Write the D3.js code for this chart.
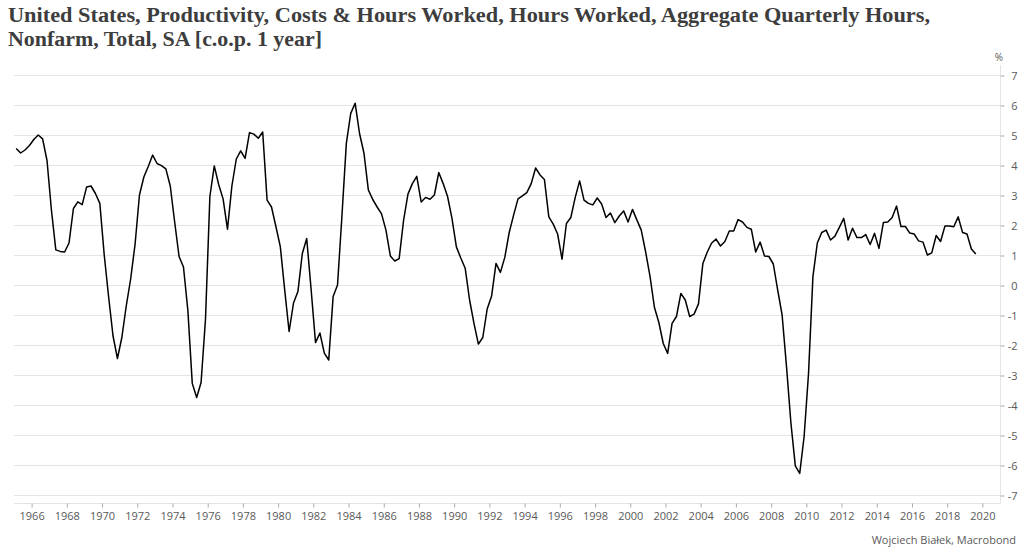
<!DOCTYPE html>
<html lang="en">
<head>
    <meta charset="UTF-8"/>
    <title>US Aggregate Quarterly Hours Worked</title>
    <script src="https://d3js.org/d3.v7.min.js"></script>
    <style>
        body { margin: 0; background: #fff; }
        svg { display: block; }
    </style>
</head>
<body>
    <div id="chart"></div>

    <script>
        // Hours worked, nonfarm, % change over one year, quarterly from 1965 Q1
        var startYear = 1965;
        var hours1960s = [
            4.55, 4.4, 4.5, 4.65,   4.85, 5.0, 4.87, 4.15,   2.5, 1.17, 1.12, 1.1,
            1.4, 2.55, 2.77, 2.68,  3.27, 3.3, 3.05, 2.72
        ];
        var hours1970s = [
            1.0, -0.4, -1.7, -2.45,  -1.75, -0.7, 0.2, 1.35,  3.0, 3.6, 3.95, 4.33,
            4.05, 3.98, 3.87, 3.3,   2.1, 0.95, 0.6, -0.85,   -3.28, -3.75, -3.25, -1.15,
            2.95, 3.97, 3.35, 2.87,  1.86, 3.3, 4.2, 4.47,    4.22, 5.08, 5.03, 4.89,
            5.1, 2.83, 2.6, 1.95
        ];
        var hours1980s = [
            1.28, -0.17, -1.55, -0.6,  -0.22, 1.05, 1.55, -0.15,  -1.92, -1.6, -2.27, -2.5,
            -0.38, 0.0, 2.3, 4.72,     5.72, 6.06, 5.05, 4.4,     3.17, 2.85, 2.6, 2.37,
            1.83, 0.97, 0.8, 0.88,     2.15, 3.03, 3.38, 3.62,    2.77, 2.92, 2.86, 3.0,
            3.75, 3.38, 2.95, 2.22
        ];
        var hours1990s = [
            1.27, 0.9, 0.56, -0.5,   -1.28, -1.97, -1.75, -0.8,  -0.37, 0.72, 0.42, 0.92,
            1.75, 2.33, 2.87, 2.97,  3.08, 3.38, 3.9, 3.67,      3.52, 2.27, 2.03, 1.7,
            0.86, 2.05, 2.25, 2.92,  3.47, 2.83, 2.72, 2.67,     2.9, 2.7, 2.25, 2.4,
            2.08, 2.3, 2.47, 2.1
        ];
        var hours2000s = [
            2.52, 2.17, 1.83, 1.1,   0.28, -0.75, -1.25, -1.95,  -2.28, -1.28, -1.05, -0.28,
            -0.5, -1.05, -0.97, -0.63, 0.72, 1.1, 1.4, 1.53,     1.3, 1.45, 1.8, 1.8,
            2.18, 2.1, 1.92, 1.86,   1.1, 1.43, 0.97, 0.95,      0.7, -0.17, -1.0, -2.72,
            -4.6, -6.03, -6.28, -5.05
        ];
        var hours2010s = [
            -2.95, 0.28, 1.4, 1.75,  1.83, 1.5, 1.63, 1.92,  2.22, 1.5, 1.89, 1.58,
            1.58, 1.68, 1.35, 1.72,  1.22, 2.08, 2.1, 2.25,  2.63, 1.95, 1.95, 1.73,
            1.7, 1.47, 1.43, 1.0,    1.07, 1.65, 1.45, 1.97, 1.97, 1.94, 2.27, 1.75,
            1.7, 1.2, 1.03
        ];
        var yTicks = [7, 6, 5, 4, 3, 2, 1, 0, -1, -2, -3, -4, -5, -6, -7];
        var xTicks = d3.range(1966, 2021, 2);

        var titleLines = [
            "United States, Productivity, Costs & Hours Worked, Hours Worked, Aggregate Quarterly Hours,",
            "Nonfarm, Total, SA [c.o.p. 1 year]"
        ];
        var source = "Wojciech Białek, Macrobond";

        // join decades and place each quarter in the middle of its period
        var values = [].concat(hours1960s, hours1970s, hours1980s, hours1990s, hours2000s, hours2010s);
        var dataset = values.map(function(v, i) {
            return { t: startYear + (i + 0.5) / 4, v: v };
        });

        var width = 1024;
        var height = 554;
        var plotLeft = 14, plotRight = 1000, plotTop = 75, plotBottom = 495, frameBottom = 503;

        var svg = d3.select("#chart")
            .append("svg")
            .attr("width", width)
            .attr("height", height);

        var xScale = d3.scaleLinear()
            .domain([1965, 2021])
            .range([plotLeft, plotRight]);

        var yScale = d3.scaleLinear()
            .domain([-7, 7])
            .range([plotBottom, plotTop]);

        // Title
        svg.append("g").selectAll("text")
            .data(titleLines)
            .enter()
            .append("text")
            .attr("x", 8)
            .attr("y", function(d, i) { return 22 + i * 24; })
            .attr("font-family", "'Liberation Serif', 'DejaVu Serif', serif")
            .attr("font-weight", "bold")
            .attr("font-size", "20px")
            .attr("fill", "#3d3d3d")
            .attr("textLength", function(d, i) { return i === 0 ? 922 : 314; })
            .attr("lengthAdjust", "spacingAndGlyphs")
            .text(function(d) { return d; });

        // Horizontal grid
        svg.append("g").selectAll("line")
            .data(yTicks)
            .enter()
            .append("line")
            .attr("x1", plotLeft)
            .attr("x2", plotRight)
            .attr("y1", function(d) { return yScale(d) + 0.5; })
            .attr("y2", function(d) { return yScale(d) + 0.5; })
            .attr("stroke", "#e4e4e4")
            .attr("stroke-width", 1);

        // Frame: bottom and right edge
        svg.append("line")
            .attr("x1", plotLeft).attr("x2", plotRight + 0.5)
            .attr("y1", frameBottom + 0.5).attr("y2", frameBottom + 0.5)
            .attr("stroke", "#e4e4e4");
        svg.append("line")
            .attr("x1", plotRight + 0.5).attr("x2", plotRight + 0.5)
            .attr("y1", 65).attr("y2", frameBottom + 0.5)
            .attr("stroke", "#e4e4e4");

        // Y axis on the right
        var yAxis = d3.axisRight(yScale)
            .tickValues(yTicks)
            .tickSize(4)
            .tickPadding(6)
            .tickFormat(d3.format("d"));
        var gy = svg.append("g")
            .attr("transform", "translate(" + (plotRight + 0.5) + ",0.5)")
            .call(yAxis);
        gy.select(".domain").remove();
        gy.selectAll(".tick line").attr("stroke", "#aaaaaa");
        gy.selectAll(".tick text")
            .attr("x", 17)
            .attr("text-anchor", "end")
            .attr("font-family", "'Open Sans', sans-serif")
            .attr("font-size", "11px")
            .attr("fill", "#595959")
            .text(function(d) { return d < 0 ? "-" + Math.abs(d) : d; });

        svg.append("text")
            .attr("x", 1003)
            .attr("y", 61)
            .attr("text-anchor", "end")
            .attr("font-family", "'Open Sans', sans-serif")
            .attr("font-size", "10px")
            .attr("fill", "#595959")
            .text("%");

        // X axis
        var xAxis = d3.axisBottom(xScale)
            .tickValues(xTicks)
            .tickSize(4)
            .tickPadding(5)
            .tickFormat(d3.format("d"));
        var gx = svg.append("g")
            .attr("transform", "translate(0," + (frameBottom + 0.5) + ")")
            .call(xAxis);
        gx.select(".domain").remove();
        gx.selectAll(".tick line").attr("stroke", "#aaaaaa");
        gx.selectAll(".tick text")
            .attr("font-family", "'Open Sans', sans-serif")
            .attr("font-size", "11px")
            .attr("fill", "#595959");

        // Series line
        var line = d3.line()
            .x(function(d) { return xScale(d.t); })
            .y(function(d) { return yScale(d.v); });

        svg.append("path")
            .datum(dataset)
            .attr("d", line)
            .attr("fill", "none")
            .attr("stroke", "#000")
            .attr("stroke-width", 1.5)
            .attr("stroke-linejoin", "round");

        // Source
        svg.append("text")
            .attr("x", 1016)
            .attr("y", 544)
            .attr("text-anchor", "end")
            .attr("font-family", "'Open Sans', sans-serif")
            .attr("font-size", "11px")
            .attr("fill", "#595959")
            .text(source);
    </script>
</body>
</html>
